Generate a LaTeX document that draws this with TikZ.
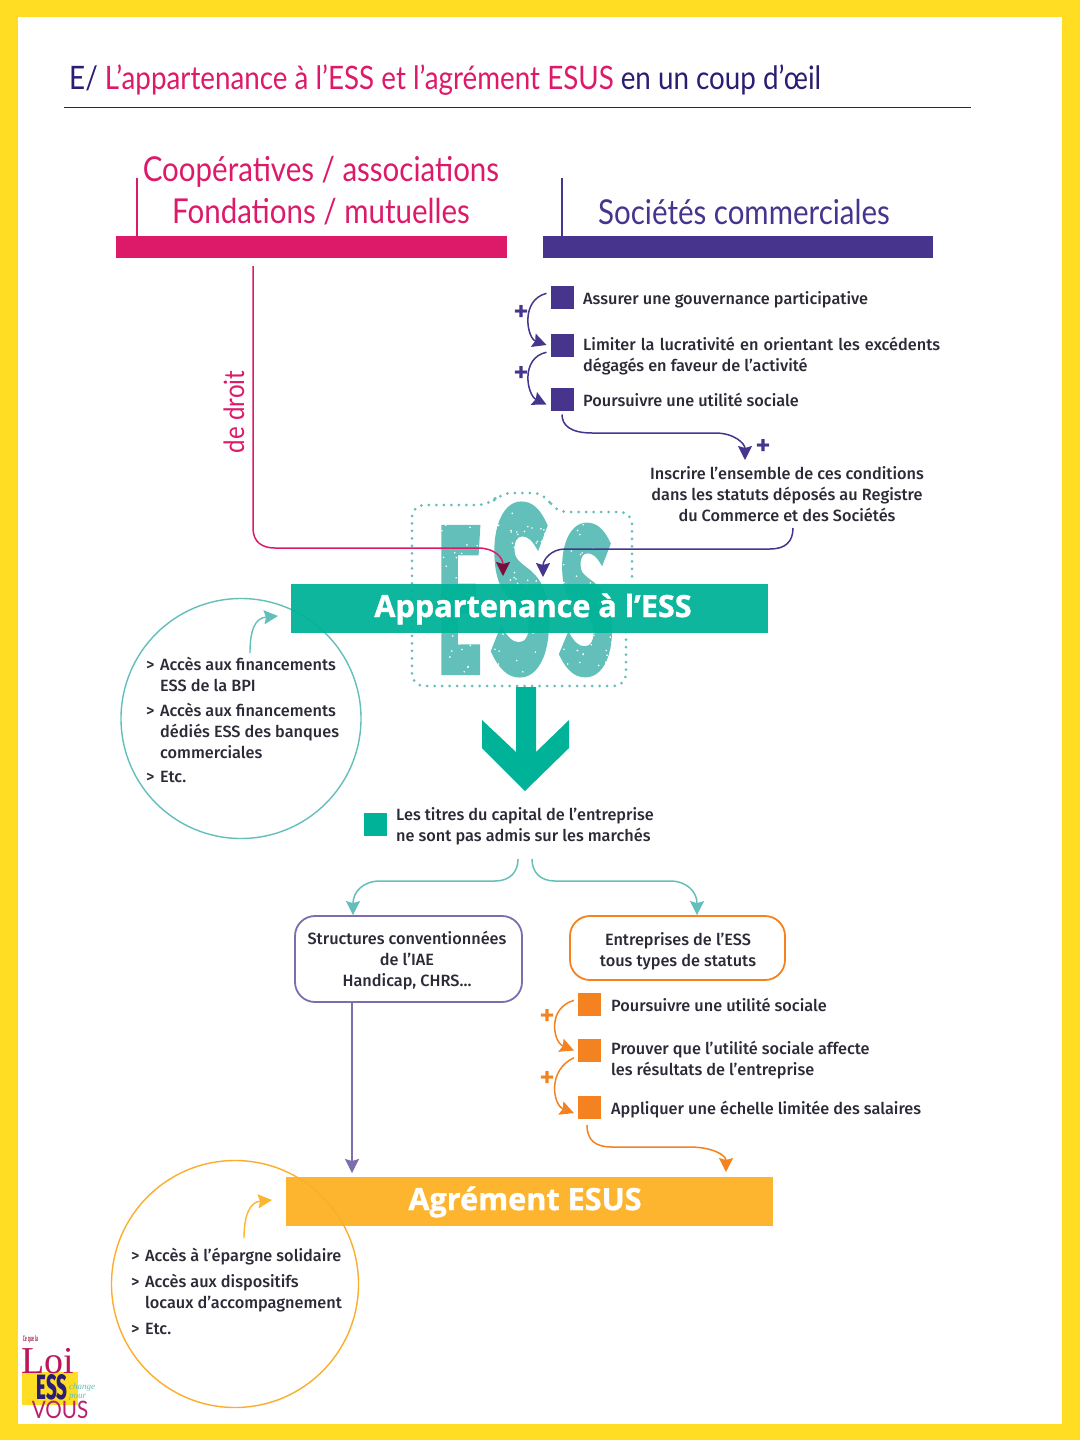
\documentclass[tikz,border=0pt]{standalone}
\usepackage{fontspec}
\usepackage{graphicx}
\usepackage{xcolor}
\usetikzlibrary{arrows.meta}
\setmainfont[UprightFont=* Medium]{Fira Sans}
\newfontfamily\titlefont[FakeStretch=0.86]{Lato}
\newfontfamily\barfont[BoldFeatures={FakeBold=1.2}]{Open Sans}
\newfontfamily\essfont[UprightFont=* Bold,FakeBold=3]{Fira Sans}
\newfontfamily\loifont{Liberation Serif}
\definecolor{frameyellow}{HTML}{FFDD22}
\definecolor{rosy}{HTML}{DD1A6A}
\definecolor{violet}{HTML}{46348D}
\definecolor{titleviolet}{HTML}{2B1D72}
\definecolor{teal}{HTML}{00B398}
\definecolor{lightteal}{HTML}{63BFB9}
\definecolor{orangy}{HTML}{F58220}
\definecolor{ambre}{HTML}{FDB52F}
\definecolor{lilac}{HTML}{7D6DAF}
\definecolor{ink}{HTML}{2B2B38}
\newcommand{\chev}{\makebox[14pt][l]{>}}
\newcommand{\nochev}{\hspace*{14pt}}
\tikzset{
  body/.style={text=ink, font=\fontsize{16.3}{21}\selectfont, inner sep=0pt, align=left},
  head/.style={font=\titlefont\fontsize{34.3}{40}\selectfont, inner sep=0pt},
  bandeau/.style={fill=#1, inner sep=0pt},
  puce/.style={fill=#1, minimum size=23pt, inner sep=0pt, outer sep=4pt},
  plus/.style={text=#1, font=\fontsize{30}{30}\selectfont, inner sep=0pt},
  fleche/.style={draw=#1, line width=1.5pt, -{Stealth[length=14pt,width=14pt,inset=2pt]}},
  boite/.style={draw=#1, line width=1.8pt, rounded corners=20pt, inner sep=0pt, fill=white},
}
\begin{document}
\begin{tikzpicture}[x=1pt,y=-1pt]
  \fill[frameyellow] (0,0) rectangle (1080,1440);
  \fill[white] (18,17) rectangle (1062,1424);
  % titre
  \node[anchor=west, inner sep=0pt, font=\titlefont\fontsize{32.3}{38}\selectfont](Titre) at (69,80)
    {\textcolor{titleviolet}{E/} \textcolor{rosy}{L’appartenance à l’ESS et l’agrément ESUS} \textcolor{titleviolet}{en un coup d’œil}};
  \coordinate (RegleA) at (64,107);
  \coordinate (RegleB) at (971,107);
  \draw[titleviolet, line width=0.8pt] (RegleA) -- (RegleB);
  % en-tetes
  \node[head, text=rosy](Coop) at (321,172) {Coopératives / associations};
  \node[head, text=rosy](Fond) at (321,212) {Fondations / mutuelles};
  \node[head, text=violet](Soc) at (744,212) {Sociétés commerciales};
  \node[bandeau=rosy, minimum width=391pt, minimum height=22pt](BarCoop) at (311.5,247) {};
  \node[bandeau=violet, minimum width=390pt, minimum height=22pt](BarSoc) at (738,247) {};
  \coordinate (TickA) at (137,178);
  \coordinate (TickB) at (137,236);
  \coordinate (TickC) at (562,178);
  \coordinate (TickD) at (562,236);
  \draw[rosy, line width=1.5pt] (TickA) -- (TickB);
  \draw[violet, line width=1.5pt] (TickC) -- (TickD);
  % logo ESS
  \node[text=lightteal, inner sep=0pt](LogoE) at (459.5,600) {\resizebox{45pt}{144pt}{\essfont E}};
  \node[text=lightteal, inner sep=0pt](LogoS) at (521,589.5) {\resizebox{58pt}{165pt}{\essfont S}};
  \node[text=lightteal, inner sep=0pt](LogoT) at (586.5,600) {\resizebox{53pt}{145pt}{\essfont S}};
  \pgfmathsetseed{7}
  \foreach \i in {1,...,170}{
    \fill[white] ({437+176*rnd},{507+165*rnd}) circle (0.9pt);
  }
  \draw[lightteal, line width=3pt, line cap=round, dash pattern=on 0pt off 7.5pt, rounded corners=12pt]
    (626,632) -- (626,686) -- (412,686) -- (412,505) -- (490,505) -- (500,493) -- (545,493) -- (555,512) -- (632,512) -- (632,582);
  % cercle BPI
  \node[circle, draw=lightteal, line width=1.4pt, minimum size=240pt, inner sep=0pt](CercleBpi) at (241,718.5) {};
  \node[bandeau=teal, opacity=0.95, minimum width=477pt, minimum height=49pt](BarEss) at (529.5,608.5) {};
  \node[text=white, font=\barfont\bfseries\fontsize{30.6}{30}\selectfont, inner sep=0pt](TxtEss) at (533,609) {Appartenance à l’ESS};
  \node[body, anchor=north west](ListeBpi) at (146,656.5)
    {\chev Accès aux financements\\ \nochev ESS de la BPI\\[4pt]\chev Accès aux financements\\ \nochev dédiés ESS des banques\\ \nochev commerciales\\[3pt]\chev Etc.};
  \coordinate (BpiA) at (250,653);
  \coordinate (BpiB) at (278,616);
  \draw[lightteal, line width=1.4pt, -{Stealth[length=14pt,width=14pt,inset=2pt]}] (BpiA) .. controls (250,630) and (255,618) .. (BpiB);
  % colonne de droite
  \node[puce=violet](SqA) at (562,297.5) {};
  \node[puce=violet](SqB) at (562,345) {};
  \node[puce=violet](SqC) at (562,399) {};
  \node[body, anchor=west](TxtA) at (583,300) {Assurer une gouvernance participative};
  \node[body, anchor=north west, text width=357pt, align=justify](TxtB) at (583,337) {\hyphenpenalty=10000 Limiter la lucrativité en orientant les excédents dégagés en faveur de l’activité};
  \node[body, anchor=west](TxtC) at (583,400) {Poursuivre une utilité sociale};
  \node[plus=violet](PlusA) at (521,313) {+};
  \node[plus=violet](PlusB) at (521,374) {+};
  \node[plus=violet](PlusC) at (763,447) {+};
  \draw[fleche=violet] (SqA.165) .. controls (520,300) and (527,338) .. (SqB.west);
  \draw[fleche=violet] (SqB.205) .. controls (520,358) and (527,395) .. (SqC.200);
  \coordinate (CondIn) at (745,460);
  \draw[fleche=violet] (SqC.south) .. controls (562,425) and (570,433) .. (592,433) -- (715,433) .. controls (735,433) and (745,444) .. (CondIn);
  \node[body, align=center](TxtCond) at (787,494) {Inscrire l’ensemble de ces conditions\\dans les statuts déposés au Registre\\du Commerce et des Sociétés};
  % de droit
  \node[rotate=90, text=rosy, inner sep=0pt, font=\titlefont\fontsize{28}{28}\selectfont](Droit) at (234,412) {de droit};
  \coordinate (DroitOut) at (253,266);
  \coordinate (DroitIn) at (503,576);
  \coordinate (CondOut) at (793,528);
  \coordinate (StatutIn) at (543,577);
  \draw[rosy, line width=1.5pt, -{Stealth[length=14pt,width=14pt,inset=2pt,color=rosy!55!black]}] (DroitOut) -- (253,528) .. controls (253,542) and (262,548) .. (275,548) -- (478,548) .. controls (495,548) and (503,558) .. (DroitIn);
  \draw[fleche=violet] (CondOut) .. controls (793,542) and (785,549) .. (770,549) -- (565,549) .. controls (551,549) and (543,560) .. (StatutIn);
  % grande fleche
  \fill[teal] (516,687) -- (536,687) -- (536,752) -- (569,720) -- (569,748) -- (525,791) -- (482,748) -- (482,720) -- (516,752) -- cycle;
  \node[puce=teal, outer sep=0pt](SqT) at (375,824.5) {};
  \node[body, anchor=north west](TxtT) at (396,807.5) {Les titres du capital de l’entreprise\\ne sont pas admis sur les marchés};
  \coordinate (ForkA) at (518,859);
  \coordinate (ForkB) at (532,859);
  % boites
  \node[boite=lilac, minimum width=227pt, minimum height=86pt](BoxIae) at (408.5,959) {};
  \node[body, align=center](TxtIae) at (407,961) {Structures conventionnées\\de l’IAE\\Handicap, CHRS…};
  \node[boite=orangy, minimum width=215pt, minimum height=64pt](BoxEnt) at (677.5,948) {};
  \node[body, align=center](TxtEnt) at (678,951) {Entreprises de l’ESS\\tous types de statuts};
  \draw[fleche=lightteal] (ForkA) .. controls (518,872) and (510,881) .. (495,881) -- (380,881) .. controls (363,881) and (353,892) .. (BoxIae.north -| 353,909);
  \draw[fleche=lightteal] (ForkB) .. controls (532,872) and (540,881) .. (555,881) -- (670,881) .. controls (687,881) and (697,892) .. (BoxEnt.north -| 697,909);
  % liste orange
  \node[puce=orangy](SqD) at (589.5,1004.5) {};
  \node[puce=orangy](SqE) at (589.5,1050.5) {};
  \node[puce=orangy](SqF) at (589.5,1107.5) {};
  \node[body, anchor=west](TxtD) at (611,1005) {Poursuivre une utilité sociale};
  \node[body, anchor=north west](TxtE) at (611,1040.5) {Prouver que l’utilité sociale affecte\\les résultats de l’entreprise};
  \node[body, anchor=west](TxtF) at (611,1110) {Appliquer une échelle limitée des salaires};
  \node[plus=orangy](PlusD) at (547,1017) {+};
  \node[plus=orangy](PlusE) at (547,1079) {+};
  \draw[fleche=orangy] (SqD.165) .. controls (547,1008) and (553,1042) .. (SqE.west);
  \draw[fleche=orangy] (SqE.205) .. controls (547,1070) and (553,1105) .. (SqF.200);
  \coordinate (EsusA) at (352,1002);
  \coordinate (EsusB) at (352,1173);
  \coordinate (EsusC) at (587,1125);
  \coordinate (EsusD) at (726,1172);
  \draw[lilac, line width=1.5pt, -{Stealth[length=14pt,width=14pt,inset=2pt]}] (EsusA) -- (EsusB);
  \draw[fleche=orangy] (EsusC) .. controls (587,1140) and (595,1147) .. (612,1147) -- (690,1147) .. controls (712,1147) and (726,1155) .. (EsusD);
  % agrement
  \node[bandeau=ambre, minimum width=487pt, minimum height=49pt](BarEsus) at (529.5,1201.5) {};
  \node[text=white, font=\barfont\bfseries\fontsize{30.6}{30}\selectfont, inner sep=0pt](TxtEsus) at (525,1202) {Agrément ESUS};
  \node[circle, draw=ambre!85!orangy, line width=1.4pt, minimum size=247pt, inner sep=0pt](CercleEsus) at (235,1284) {};
  \node[body, anchor=north west](ListeEsus) at (131,1247.5)
    {\chev Accès à l’épargne solidaire\\[5pt]\chev Accès aux dispositifs\\ \nochev locaux d’accompagnement\\[5pt]\chev Etc.};
  \coordinate (EpargneA) at (244,1238);
  \coordinate (EpargneB) at (272,1200);
  \draw[ambre, line width=1.4pt, -{Stealth[length=14pt,width=14pt,inset=2pt]}] (EpargneA) .. controls (244,1215) and (250,1202) .. (EpargneB);
  % logo de la loi
  \fill[frameyellow] (22,1372) rectangle (78,1405);
  \node[text=rosy!70!black, inner sep=0pt](LogoCe) at (30.5,1339) {\resizebox{15pt}{6pt}{Ce que la}};
  \node[text=rosy!85!black, inner sep=0pt, font=\loifont\fontsize{38}{38}\selectfont](LogoLoi) at (48,1361) {Loi};
  \node[text=titleviolet, inner sep=0pt](LogoEss) at (52,1387) {\resizebox{31pt}{25pt}{\bfseries ESS}};
  \node[text=lightteal, anchor=west, align=left, inner sep=0pt, font=\loifont\itshape\fontsize{9}{9}\selectfont](LogoCh) at (69,1392) {change\\pour};
  \node[text=rosy!75!violet, inner sep=0pt, font=\titlefont\fontsize{24}{24}\selectfont](LogoVous) at (60,1410) {VOUS};
\end{tikzpicture}
\end{document}
